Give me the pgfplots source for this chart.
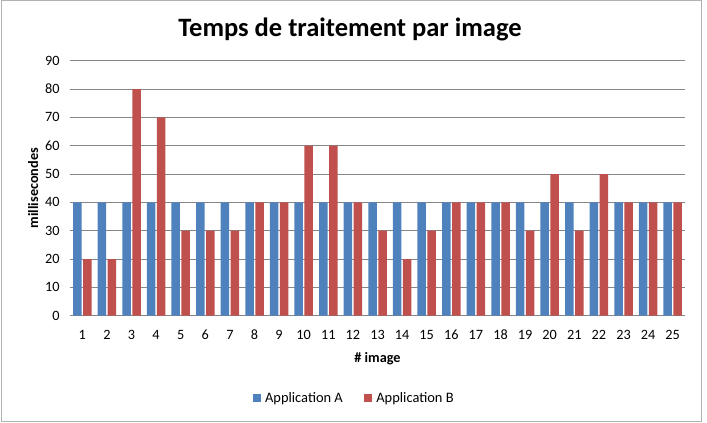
\documentclass[border=0pt]{standalone}
\usepackage{pgfplots}
\pgfplotsset{compat=1.18}
\usepackage{fontspec}
\setmainfont{Carlito}
\definecolor{appA}{HTML}{4F81BD}
\definecolor{appB}{HTML}{C0504D}
\definecolor{gridc}{HTML}{868686}
\begin{document}
\begin{tikzpicture}
\useasboundingbox (0bp,0bp) rectangle (707bp,423bp);
\draw[color=gray!60, line width=1bp] (1bp,1.5bp) rectangle (701.5bp,422.5bp);
\node[font=\bfseries\fontsize{26.6}{30}\selectfont] at (350bp,394bp) {Temps de traitement par image};
\begin{axis}[at={(70bp,107.3bp)}, anchor=south west, scale only axis,
  width=615bp, height=255bp,
  ybar=1.5bp, bar width=8.5bp,
  ymin=0, ymax=90, ytick={0,10,...,90},
  xmin=0.5, xmax=25.5, xtick={1,...,25},
  ymajorgrids, grid style={gridc, line width=0.6bp},
  axis x line*=bottom, axis y line*=left,
  y axis line style={draw=none},
  x axis line style={gridc, line width=0.8bp, -},
  major tick length=0,
  tick label style={font=\fontsize{14.3}{16}\selectfont},
  /pgf/number format/assume math mode=true,
  xticklabel style={yshift=-11bp},
  yticklabel style={xshift=-7bp},
  xlabel={\# image}, ylabel={millisecondes},
  label style={font=\bfseries\fontsize{14.3}{16}\selectfont},
  xlabel style={yshift=-6bp},
  ylabel style={yshift=0bp},
  legend style={at={(0.462,-0.323)}, anchor=center, draw=none,
    font=\fontsize{14.5}{16}\selectfont, legend columns=2,
    /tikz/every even column/.append style={column sep=19bp}},
  legend image code/.code={\fill[#1] (0bp,-4.2bp) rectangle (8.4bp,4.2bp); \path (0bp,0bp) -- (10.5bp,0bp);},
]
\addplot[fill=appA, draw=none] coordinates {
(1,40) (2,40) (3,40) (4,40) (5,40) (6,40) (7,40) (8,40) (9,40) (10,40)
(11,40) (12,40) (13,40) (14,40) (15,40) (16,40) (17,40) (18,40) (19,40) (20,40)
(21,40) (22,40) (23,40) (24,40) (25,40)};
\addplot[fill=appB, draw=none] coordinates {
(1,20) (2,20) (3,80) (4,70) (5,30) (6,30) (7,30) (8,40) (9,40) (10,60)
(11,60) (12,40) (13,30) (14,20) (15,30) (16,40) (17,40) (18,40) (19,30) (20,50)
(21,30) (22,50) (23,40) (24,40) (25,40)};
\legend{Application A, Application B}
\end{axis}
\end{tikzpicture}
\end{document}
